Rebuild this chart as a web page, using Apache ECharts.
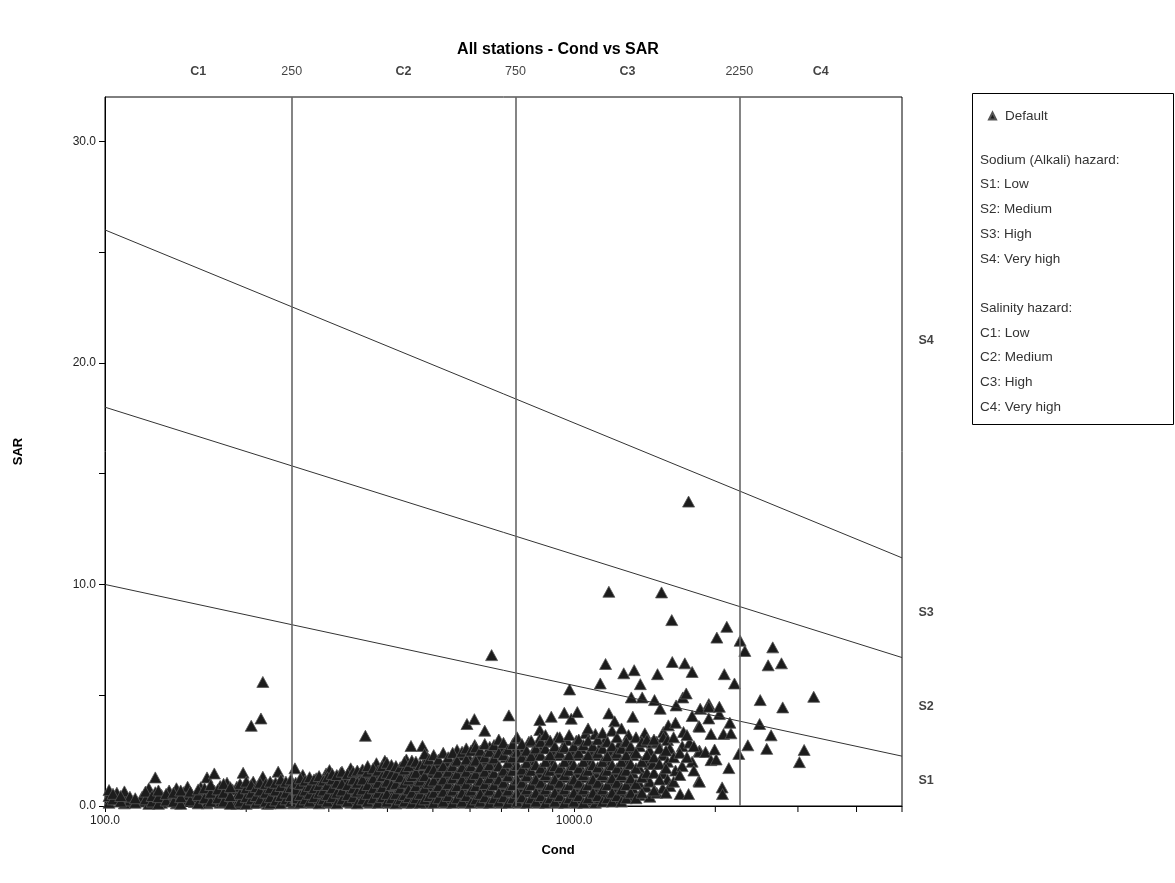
<!DOCTYPE html>
<html><head><meta charset="utf-8">
<script src="https://cdn.jsdelivr.net/npm/echarts@6/dist/echarts.min.js"></script>
<style>html,body{margin:0;padding:0;background:#fff}#c{width:1175px;height:883px}</style>
</head><body><div id="c"></div>
<script>
// Observed samples: [Cond, SAR]
const points = [
[102,0.15],[102,0.45],[102,0.72],[106,0.3],[106,0.6],[110,0.12],[110,0.5],[110,0.66],[113,0.25],[113,0.42],
[120,0.2],[120,0.42],[124,0.1],[124,0.55],[124,0.8],[128,0.3],[128,0.62],[128,1.29],[132,0.15],[132,0.5],
[137,0.35],[137,0.7],[142,0.12],[142,0.45],[142,0.8],[147,0.28],[147,0.62],[150,0.5],[150,0.87],[155,0.18],[155,0.4],
[160,0.3],[160,0.65],[160,0.85],[165,0.12],[165,0.5],[165,1.29],[171,0.25],[171,0.7],[171,1.47],[176,0.15],[176,0.45],[176,0.9],
[182,0.3],[182,0.6],[182,1.05],[187,0.2],[187,0.75],[191,0.1],[191,0.45],[191,0.87],[197,0.3],[197,0.65],[197,1.5],
[202,0.2],[202,0.5],[202,0.95],[205,3.62],[207,0.15],[207,0.4],[207,0.75],[207,1.1],[212,0.3],[212,0.6],[215,3.95],
[217,0.2],[217,0.85],[217,1.32],[217,5.6],[222,0.1],[222,0.45],[222,0.7],[228,0.3],[228,0.95],[228,0.6],
[234,0.15],[234,0.5],[234,1.55],[240,0.25],[240,0.7],[240,0.98],[246,0.4],[246,0.85],[252,0.12],[252,0.6],[254,1.7],
[258,0.3],[258,0.9],[264,0.2],[264,0.55],[264,1.4],[270,0.4],[270,1.0],[270,0.75],[276,0.15],[276,0.6],[276,1.1],
[282,0.3],[282,0.85],[282,1.25],[289,0.2],[289,0.5],[289,1.05],[296,0.35],[296,0.75],[296,1.47],
[301,0.15],[301,0.6],[301,1.1],[301,1.62],[308,0.3],[308,0.9],[308,1.3],[316,0.2],[316,0.5],[316,1.15],[318,1.5],
[325,0.35],[325,0.8],[325,1.25],[334,0.15],[334,0.6],[334,1.0],[334,1.7],[342,0.3],[342,0.9],[342,1.35],
[349,0.2],[349,0.55],[349,1.15],[349,1.47],[359,0.4],[359,0.85],[359,1.3],[359,3.17],[367,0.15],[367,0.65],[367,1.1],[367,1.5],
[379,0.3],[379,0.9],[379,1.4],[379,1.93],[386,0.2],[386,0.6],[386,1.2],[395,0.45],[395,1.0],[395,1.6],[395,2.04],
[404,0.15],[404,0.75],[404,1.3],[413,0.35],[413,0.9],[413,1.7],[422,0.2],[422,0.6],[422,1.15],[422,1.5],
[431,0.4],[431,1.0],[431,1.45],[439,0.15],[439,0.7],[439,1.25],[439,2.1],[449,0.3],[449,0.9],[449,1.55],[449,2.71],
[455,0.5],[455,1.1],[455,1.77],[466,0.2],[466,0.75],[466,1.35],[475,0.4],[475,1.0],[475,1.6],[475,2.71],
[486,0.15],[486,0.65],[486,1.2],[486,2.22],[497,0.35],[497,0.9],[497,1.5],[497,1.85],[508,0.2],[508,0.7],[508,1.3],[513,1.85],
[520,0.45],[520,1.05],[520,1.6],[532,0.15],[532,0.8],[532,1.4],[538,1.95],[545,0.35],[545,1.0],[545,1.7],
[557,0.2],[557,0.65],[557,1.3],[557,2.0],[563,2.53],[570,0.4],[570,1.1],[570,1.6],[580,2.3],
[583,0.15],[583,0.75],[583,1.4],[583,1.9],[591,3.7],[596,0.35],[596,1.0],[596,1.7],[596,2.2],
[610,0.2],[610,0.6],[610,1.3],[610,2.0],[613,3.92],[614,2.75],[624,0.45],[624,1.1],[624,1.6],[624,2.3],[627,2.22],
[638,0.15],[638,0.8],[638,1.45],[638,1.9],[645,3.4],[652,0.35],[652,1.0],[652,1.7],[652,2.1],[661,2.67],
[667,0.2],[667,0.65],[667,1.3],[667,2.0],[667,6.81],[683,0.45],[683,1.15],[683,1.8],[683,2.4],
[699,0.15],[699,0.8],[699,1.5],[699,2.65],[715,0.35],[715,1.0],[715,1.7],[715,2.2],[726,4.09],
[731,0.2],[731,0.65],[731,1.3],[731,2.0],[748,0.45],[748,1.1],[748,1.9],[748,2.5],[753,3.05],
[765,0.15],[765,0.8],[765,1.5],[765,2.3],[772,2.4],[783,0.35],[783,1.0],[783,1.7],[783,2.6],
[801,0.2],[801,0.65],[801,1.3],[801,2.1],[801,2.9],[820,0.45],[820,1.1],[820,1.9],[820,2.5],
[839,0.15],[839,0.8],[839,1.5],[839,2.3],[845,3.88],[845,3.43],[845,3.04],[859,0.35],[859,1.0],[859,1.7],[859,2.7],
[879,0.2],[879,0.65],[879,1.3],[879,2.1],[879,2.9],[894,4.03],[900,0.45],[900,1.1],[900,1.9],[900,2.5],
[921,0.15],[921,0.8],[921,1.5],[921,2.3],[921,3.1],[943,0.35],[943,1.0],[943,1.7],[943,2.6],[953,4.21],
[965,0.2],[965,0.65],[965,1.3],[965,2.1],[965,2.98],[978,5.26],[986,3.94],[988,0.45],[988,1.1],[988,1.9],[988,2.5],
[1011,0.15],[1011,0.8],[1011,1.5],[1011,2.3],[1011,2.95],[1016,4.24],[1035,0.35],[1035,1.0],[1035,1.7],[1035,2.6],
[1059,0.2],[1059,0.65],[1059,1.3],[1059,2.1],[1059,3.28],[1084,0.45],[1084,1.1],[1084,1.9],[1084,2.5],[1097,0.27],
[1110,0.15],[1110,0.8],[1110,1.5],[1110,2.3],[1110,3.25],[1137,0.35],[1137,1.0],[1137,1.7],[1137,2.7],[1137,5.53],
[1164,0.6],[1164,1.3],[1164,2.1],[1164,2.98],[1167,6.41],[1186,9.67],[1186,4.18],[1192,0.45],[1192,1.1],[1192,1.9],[1192,2.5],
[1220,0.3],[1220,0.8],[1220,1.5],[1220,2.3],[1220,3.82],[1250,0.27],[1250,1.0],[1250,1.7],[1250,2.8],
[1276,5.99],[1276,0.6],[1276,1.3],[1276,2.1],[1306,0.45],[1306,1.1],[1306,1.9],[1306,2.6],[1306,3.2],[1324,4.9],
[1334,4.03],[1334,0.8],[1334,1.5],[1334,2.3],[1343,6.13],[1379,0.5],[1379,1.0],[1379,1.7],[1379,2.7],[1384,5.5],[1397,4.9],
[1415,3.28],[1415,1.3],[1415,2.1],[1424,0.87],[1450,0.42],[1450,1.1],[1450,1.9],[1450,2.5],[1466,2.86],[1472,1.9],
[1484,4.78],[1500,0.6],[1500,2.9],[1506,5.95],[1526,4.39],[1536,9.64],[1545,1.47],[1545,0.8],[1545,2.3],[1550,3.34],[1550,3.1],
[1582,2.98],[1582,1.2],[1582,2.0],[1588,3.64],[1600,0.9],[1600,2.6],[1615,8.39],[1619,6.5],[1645,3.76],[1645,1.6],[1650,4.54],
[1683,0.54],[1700,1.8],[1700,2.7],[1705,4.9],[1711,3.34],[1722,6.44],[1734,5.08],[1754,0.54],[1754,13.74],[1762,2.86],
[1785,6.05],[1785,4.06],[1785,2.0],[1845,3.61],[1845,1.14],[1850,2.5],[1850,3.58],[1850,1.1],[1850,2.45],[1857,4.39],
[1906,2.44],[1937,4.6],[1937,4.48],[1937,3.95],[1958,3.25],[1958,2.07],[1993,2.55],[2008,2.1],[2015,7.6],
[2040,4.15],[2040,4.48],[2068,0.84],[2072,0.54],[2082,3.25],[2090,5.95],[2116,8.09],[2137,1.71],[2148,3.76],[2159,3.28],
[2197,5.53],[2244,2.35],[2259,7.46],[2312,7.0],[2346,2.74],[2486,3.7],[2493,4.78],[2574,2.58],[2592,6.35],[2630,3.19],
[2651,7.16],[2767,6.44],[2784,4.45],[3022,1.98],[3093,2.53],[3242,4.93]
];
// Further observed samples inside the dense band: [Cond, SAR]
const pointsDense = [
[104,0.3],[104,0.55],[108,0.2],[108,0.45],[116,0.15],[116,0.35],[122,0.3],[122,0.65],[126,0.2],[126,0.45],
[130,0.1],[130,0.4],[130,0.7],[135,0.25],[135,0.55],[140,0.2],[140,0.6],[145,0.1],[145,0.4],[145,0.7],
[152,0.25],[152,0.65],[158,0.12],[158,0.5],[158,0.75],[163,0.35],[163,0.8],[168,0.2],[168,0.6],[168,0.95],
[174,0.35],[174,0.75],[179,0.2],[179,0.6],[179,1.0],[185,0.1],[185,0.45],[185,0.85],[194,0.2],[194,0.55],[194,1.0],
[200,0.1],[200,0.4],[200,0.8],[200,1.1],[205,0.3],[205,0.6],[205,0.95],[210,0.15],[210,0.45],[210,0.85],
[214,0.3],[214,0.7],[214,1.05],[220,0.2],[220,0.6],[220,1.0],[225,0.12],[225,0.4],[225,0.8],[225,1.1],
[231,0.25],[231,0.7],[231,1.05],[237,0.12],[237,0.45],[237,0.9],[237,1.2],[243,0.3],[243,0.6],[243,1.1],
[249,0.2],[249,0.45],[249,0.85],[249,1.2],[255,0.35],[255,0.75],[255,1.05],[261,0.15],[261,0.5],[261,1.0],[261,1.25],
[267,0.3],[267,0.7],[267,1.15],[273,0.2],[273,0.55],[273,0.9],[273,1.3],[279,0.4],[279,0.8],[279,1.2],
[286,0.12],[286,0.6],[286,0.95],[286,1.35],[292,0.3],[292,0.7],[292,1.15],[298,0.2],[298,0.5],[298,0.95],[298,1.3],
[305,0.4],[305,0.8],[305,1.2],[305,1.45],[312,0.12],[312,0.6],[312,1.05],[312,1.4],[320,0.3],[320,0.7],[320,1.0],[320,1.55],
[329,0.2],[329,0.5],[329,0.95],[329,1.45],[338,0.4],[338,0.8],[338,1.2],[338,1.55],[345,0.12],[345,0.65],[345,1.05],[345,1.6],
[354,0.3],[354,0.75],[354,1.2],[354,1.65],[363,0.2],[363,0.55],[363,0.95],[363,1.55],[363,1.8],
[373,0.35],[373,0.8],[373,1.25],[373,1.7],[382,0.15],[382,0.6],[382,1.05],[382,1.6],[390,0.4],[390,0.85],[390,1.35],[390,1.8],
[399,0.2],[399,0.55],[399,1.1],[399,1.5],[399,1.95],[408,0.35],[408,0.95],[408,1.45],[408,1.85],
[417,0.12],[417,0.55],[417,1.0],[417,1.4],[417,1.8],[426,0.3],[426,0.8],[426,1.3],[426,1.75],
[435,0.2],[435,0.5],[435,1.05],[435,1.65],[435,2.0],[444,0.4],[444,0.75],[444,1.2],[444,1.8],
[451,0.15],[451,0.6],[451,1.35],[451,2.05],[460,0.35],[460,0.9],[460,1.5],[460,2.0],
[470,0.15],[470,0.55],[470,1.15],[470,1.85],[480,0.3],[480,0.8],[480,1.35],[480,1.9],[480,2.35],
[491,0.45],[491,1.05],[491,1.7],[491,2.1],[502,0.15],[502,0.6],[502,1.15],[502,1.65],[502,2.3],
[514,0.35],[514,0.9],[514,1.5],[514,2.1],[526,0.2],[526,0.65],[526,1.2],[526,1.8],[526,2.4],
[539,0.45],[539,1.0],[539,1.55],[539,2.2],[551,0.15],[551,0.7],[551,1.25],[551,1.8],[551,2.4],
[563,0.35],[563,0.9],[563,1.45],[563,2.05],[577,0.2],[577,0.6],[577,1.2],[577,1.75],[577,2.45],
[589,0.45],[589,1.0],[589,1.55],[589,2.1],[589,2.6],[603,0.15],[603,0.7],[603,1.25],[603,1.8],[603,2.5],
[617,0.3],[617,0.9],[617,1.45],[617,2.05],[617,2.65],[631,0.2],[631,0.55],[631,1.15],[631,1.75],[631,2.5],
[645,0.4],[645,1.0],[645,1.55],[645,2.2],[645,2.8],[660,0.15],[660,0.7],[660,1.25],[660,1.85],[660,2.45],
[675,0.35],[675,0.95],[675,1.5],[675,2.15],[675,2.75],[691,0.2],[691,0.6],[691,1.2],[691,1.8],[691,2.4],[691,3.0],
[707,0.4],[707,1.05],[707,1.6],[707,2.3],[707,2.85],[723,0.15],[723,0.7],[723,1.35],[723,1.95],[723,2.55],
[740,0.35],[740,0.95],[740,1.6],[740,2.2],[740,2.8],[756,0.2],[756,0.6],[756,1.2],[756,1.85],[756,2.45],[756,3.1],
[774,0.4],[774,1.05],[774,1.65],[774,2.2],[774,2.8],[792,0.15],[792,0.75],[792,1.35],[792,1.95],[792,2.5],
[810,0.35],[810,0.95],[810,1.6],[810,2.25],[810,2.95],[829,0.2],[829,0.6],[829,1.2],[829,1.85],[829,2.6],
[849,0.45],[849,1.05],[849,1.7],[849,2.3],[849,2.9],[869,0.15],[869,0.75],[869,1.4],[869,2.0],[869,2.6],[869,3.2],
[889,0.35],[889,0.95],[889,1.6],[889,2.3],[889,2.95],[910,0.2],[910,0.6],[910,1.2],[910,1.8],[910,2.7],
[932,0.45],[932,1.05],[932,1.7],[932,2.4],[932,3.1],[954,0.15],[954,0.75],[954,1.4],[954,2.0],[954,2.65],
[976,0.35],[976,0.95],[976,1.6],[976,2.3],[976,3.2],[999,0.2],[999,0.6],[999,1.2],[999,1.85],[999,2.7],
[1023,0.45],[1023,1.05],[1023,1.7],[1023,2.4],[1023,3.0],[1047,0.15],[1047,0.75],[1047,1.4],[1047,2.0],[1047,2.75],
[1071,0.35],[1071,0.95],[1071,1.6],[1071,2.3],[1071,2.95],[1071,3.5],[1097,0.6],[1097,1.2],[1097,1.85],[1097,2.7],
[1123,0.45],[1123,1.05],[1123,1.75],[1123,2.4],[1123,3.0],[1150,0.2],[1150,0.75],[1150,1.4],[1150,2.0],[1150,2.6],[1150,3.3],
[1177,0.35],[1177,0.95],[1177,1.6],[1177,2.25],[1177,2.9],[1205,0.2],[1205,0.6],[1205,1.25],[1205,1.85],[1205,2.7],[1205,3.4],
[1234,0.45],[1234,1.05],[1234,1.7],[1234,2.4],[1234,3.1],[1262,0.2],[1262,0.75],[1262,1.4],[1262,2.0],[1262,2.6],[1262,3.5],
[1292,0.35],[1292,0.95],[1292,1.6],[1292,2.3],[1292,2.9],[1320,0.6],[1320,1.25],[1320,1.9],[1320,2.7],
[1355,0.35],[1355,1.0],[1355,1.7],[1355,2.4],[1355,3.1],[1395,0.6],[1395,1.3],[1395,2.0],[1395,2.9],
[1430,1.5],[1430,2.3],[1430,3.0],[1480,0.7],[1480,1.5],[1480,2.2],[1480,3.0],[1520,1.2],[1520,1.9],[1520,2.6],
[1570,0.6],[1570,1.7],[1570,2.5],[1630,1.1],[1630,2.2],[1630,3.1],[1680,1.4],[1680,2.4],[1740,2.2],[1740,3.2],[1800,1.6],[1800,2.7]
];
// Sodium hazard boundary lines: SAR at Cond = 100 and Cond = 5000
const condEnds = [100, 5000];
const s1s2 = [10.0, 2.25];
const s2s3 = [18.0, 6.7];
const s3s4 = [26.0, 11.2];
// Salinity class boundaries
const condBounds = [250, 750, 2250];
// Top labels
const topLabels = ['C1','250','C2','750','C3','2250','C4'];
const topLabelCond = [158, 250, 433, 750, 1299, 2250, 3354];
// Right labels
const sLabels = ['S1','S2','S3','S4'];
const sLabelSar = [1.13, 4.51, 8.75, 21.0];
// Axis
const xMin = 100, xMax = 5000, yMin = 0, yMax = 32, yInterval = 10;
const yTicks = [0, 10, 20, 30];
const xMinorTicks = [200,300,400,500,600,700,800,900,2000,3000,4000,5000];
const legendLines = ['Sodium (Alkali) hazard:','S1: Low','S2: Medium','S3: High','S4: Very high','','Salinity hazard:','C1: Low','C2: Medium','C3: High','C4: Very high'];

const FONT = '"Liberation Sans", Arial, sans-serif';
const chart = echarts.init(document.getElementById('c'), null, {renderer:'canvas'});

function lineData(vals){ return condEnds.map((c,i)=>[c, vals[i]]); }

const legendTexts = legendLines.map((t,i)=>({
  type:'text', left: 980, top: 153 + i*24.7,
  style:{text:t, font:'13.5px ' + FONT, fill:'#333'}
}));

const option = {
  animation:false,
  title:[
    {text:'All stations - Cond vs SAR', left:553, top:37, textAlign:'center',
     textStyle:{fontFamily:FONT, fontSize:16, fontWeight:'bold', color:'#000'}},
    {text:'Cond', left:553, top:839, textAlign:'center',
     textStyle:{fontFamily:FONT, fontSize:13, fontWeight:'bold', color:'#000'}}
  ],
  legend:{data:[{name:'Default', icon:'triangle'}], left:983, top:104, orient:'vertical',
    itemWidth:7, itemHeight:7, itemGap:10,
    textStyle:{fontFamily:FONT, fontSize:13.5, color:'#333', padding:[0,0,0,4]}},
  grid:{left:105, top:97, right:273, bottom:77, show:true, borderColor:'#000', borderWidth:1, containLabel:false},
  xAxis:{type:'log', logBase:10, min:xMin, max:xMax,
    axisLine:{lineStyle:{color:'#000', width:1}},
    axisTick:{show:true, length:6, lineStyle:{color:'#000'}},
    axisLabel:{formatter:v=>Number(v).toFixed(1), showMaxLabel:false, color:'#222', fontFamily:FONT, fontSize:12, margin:9},
    splitLine:{show:false}},
  yAxis:{type:'value', min:yMin, max:yMax, interval:yInterval,
    name:'SAR', nameLocation:'middle', nameGap:80,
    nameTextStyle:{fontFamily:FONT, fontSize:13, fontWeight:'bold', color:'#000'},
    axisLine:{show:true, lineStyle:{color:'#000', width:1}},
    axisTick:{show:true, length:6, customValues:yTicks, lineStyle:{color:'#000'}},
    minorTick:{show:true, splitNumber:2, length:6, lineStyle:{color:'#000'}},
    axisLabel:{formatter:v=>v.toFixed(1), customValues:yTicks, color:'#222', fontFamily:FONT, fontSize:12, margin:9},
    splitLine:{show:false}},
  series:[
    {name:'bounds', type:'line', data:lineData(s1s2), symbol:'none', silent:true,
     lineStyle:{color:'#333', width:1},
     markLine:{silent:true, symbol:'none', label:{show:false},
       lineStyle:{color:'#666', width:1.6, type:'solid'},
       data:condBounds.map(c=>({xAxis:c}))}},
    {name:'b2', type:'line', data:lineData(s2s3), symbol:'none', silent:true, lineStyle:{color:'#333', width:1}},
    {name:'b3', type:'line', data:lineData(s3s4), symbol:'none', silent:true, lineStyle:{color:'#333', width:1}},
    {name:'Default', type:'scatter', data:points.concat(pointsDense), symbol:'triangle', symbolSize:[12,11],
     itemStyle:{color:'#1c1c1c', borderColor:'#555', borderWidth:0.8, opacity:1}},
    {name:'topLabels', type:'scatter', silent:true, clip:false, symbolSize:1,
     data:topLabels.map((t,i)=>({name:t, value:[topLabelCond[i], yMax],
       label:{fontWeight: t.startsWith('C') ? 'bold' : 'normal'}})),
     label:{show:true, position:'top', distance:18, formatter:p=>p.name,
       fontFamily:FONT, fontSize:12.5, color:'#111'},
     itemStyle:{color:'rgba(0,0,0,0)'}},
    {name:'sLabels', type:'scatter', silent:true, clip:false, symbolSize:1,
     data:sLabels.map((t,i)=>({name:t, value:[xMax, sLabelSar[i]]})),
     label:{show:true, position:'right', distance:16, formatter:p=>p.name,
       fontFamily:FONT, fontSize:12.5, fontWeight:'bold', color:'#111'},
     itemStyle:{color:'rgba(0,0,0,0)'}},
    {name:'xminor', type:'custom', silent:true, clip:false,
     data:xMinorTicks.map(v=>[v, yMin]),
     renderItem:(params, api)=>{
       const p = api.coord([api.value(0), api.value(1)]);
       return {type:'line', shape:{x1:p[0], y1:p[1], x2:p[0], y2:p[1]+6}, style:{stroke:'#000', lineWidth:1}};
     }}
  ],
  graphic:[
    {type:'rect', left:972, top:93, shape:{width:201, height:331}, style:{fill:'#fff', stroke:'#000', lineWidth:1}, z:-1},
    ...legendTexts
  ]
};
chart.setOption(option);
</script>
</body></html>
